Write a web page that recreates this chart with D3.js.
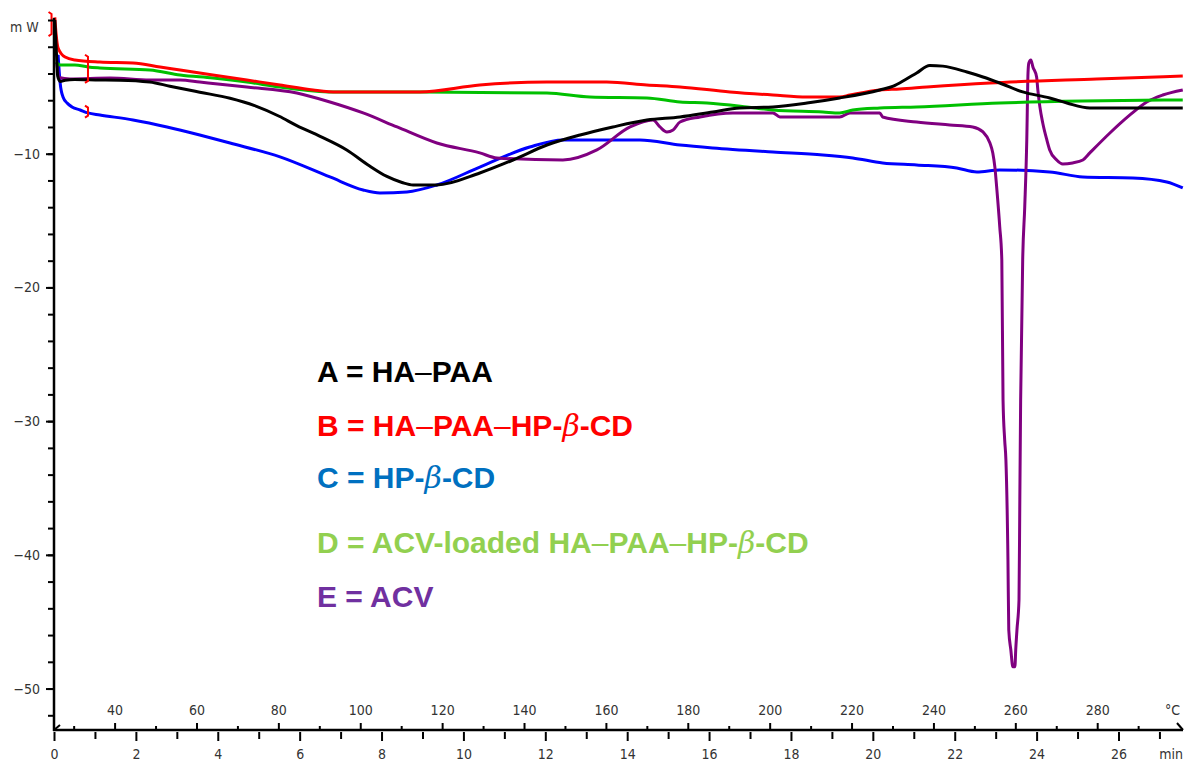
<!DOCTYPE html>
<html>
<head>
<meta charset="utf-8">
<script src="https://cdn.jsdelivr.net/npm/d3@7"></script>
<style>
  html, body { margin: 0; padding: 0; background: #fff; }
  svg { display: block; }
  .tick-label { font-family: "DejaVu Sans Condensed", "DejaVu Sans", sans-serif; font-size: 14px; fill: #333; }
  .legend { font-family: "Liberation Sans", Arial, sans-serif; font-size: 30px; font-weight: bold; }
</style>
</head>
<body>
<div id="chart"></div>
<script>
// DSC traces, time in min, heat flow in mW
var seriesA = [[0.02,0.0],[0.06,-2.5],[0.09,-4.2],[0.15,-4.6],[0.27,-4.5],[0.5,-4.45],[1.12,-4.49],[1.61,-4.5],[2.34,-4.64],[2.83,-4.95],[3.56,-5.4],[4.3,-5.85],[4.9,-6.4],[5.5,-7.2],[5.93,-7.9],[6.5,-8.7],[7.15,-9.72],[7.7,-10.9],[8.13,-11.7],[8.5,-12.15],[8.77,-12.34],[9.35,-12.34],[10.40,-11.44],[11.21,-10.47],[12.04,-9.35],[12.85,-8.6],[13.65,-8.0],[14.48,-7.48],[15.29,-7.25],[16.09,-6.88],[16.75,-6.58],[17.56,-6.5],[18.39,-6.21],[19.19,-5.83],[20.17,-5.23],[20.5,-4.95],[20.8,-4.45],[21.07,-3.96],[21.39,-3.4],[21.71,-3.45],[22.30,-3.89],[22.69,-4.26],[23.10,-4.71],[23.66,-5.38],[24.32,-5.83],[24.74,-6.21],[25.30,-6.58],[26.35,-6.58],[27.57,-6.58]];
var seriesB = [[0.02,0.2],[0.05,-1.0],[0.10,-2.09],[0.27,-2.77],[0.51,-2.99],[1.12,-3.14],[1.93,-3.21],[2.59,-3.51],[3.08,-3.74],[3.88,-4.11],[4.71,-4.49],[5.52,-4.86],[6.33,-5.23],[6.91,-5.38],[8.94,-5.38],[10.40,-4.86],[12.04,-4.64],[13.5,-4.64],[14.48,-4.86],[15.29,-5.01],[16.51,-5.38],[17.56,-5.61],[18.39,-5.76],[19.19,-5.76],[19.44,-5.61],[20.17,-5.23],[20.66,-5.16],[21.32,-5.01],[22.86,-4.71],[25.47,-4.41],[27.57,-4.19]];
var seriesC = [[0.10,-2.6],[0.15,-4.71],[0.22,-5.76],[0.32,-6.21],[0.44,-6.50],[0.64,-6.73],[0.83,-6.95],[1.12,-7.10],[1.93,-7.48],[2.76,-8.0],[3.56,-8.60],[4.30,-9.20],[5.52,-10.24],[6.74,-11.74],[7.55,-12.71],[7.96,-12.93],[8.62,-12.86],[9.35,-12.34],[10.40,-11.0],[11.62,-9.50],[12.43,-8.97],[14.31,-8.97],[15.29,-9.35],[16.09,-9.57],[17.56,-9.87],[18.78,-10.09],[19.51,-10.32],[20.24,-10.69],[21.07,-10.84],[22.05,-11.07],[22.54,-11.36],[23.10,-11.21],[24.32,-11.36],[25.13,-11.74],[26.35,-11.81],[27.18,-12.11],[27.57,-12.56]];
var seriesD = [[0.05,-3.14],[0.15,-3.36],[0.51,-3.36],[0.83,-3.51],[1.12,-3.59],[2.34,-3.74],[3.08,-4.11],[3.88,-4.34],[4.71,-4.64],[5.52,-5.01],[6.81,-5.38],[9.01,-5.38],[12.04,-5.46],[13.09,-5.76],[14.48,-5.83],[15.29,-6.13],[15.95,-6.21],[16.92,-6.50],[17.56,-6.73],[18.78,-6.88],[19.19,-6.95],[19.51,-6.73],[20.17,-6.58],[21.07,-6.50],[23.10,-6.21],[25.13,-6.06],[27.57,-5.98]];
var seriesE = [[0.07,-3.2],[0.12,-4.3],[0.39,-4.41],[1.37,-4.34],[2.34,-4.49],[3.08,-4.49],[3.56,-4.64],[4.71,-5.01],[5.93,-5.46],[6.74,-6.13],[7.55,-6.95],[8.38,-8.0],[9.35,-9.20],[10.40,-9.94],[10.82,-10.32],[12.43,-10.47],[13.26,-9.72],[14.07,-8.0],[14.63,-7.48],[14.80,-8.0],[14.97,-8.37],[15.12,-8.22],[15.29,-7.63],[15.78,-7.25],[16.58,-6.95],[17.56,-6.95],[17.73,-7.25],[19.19,-7.25],[19.44,-6.95],[20.17,-6.95],[20.24,-7.25],[21.07,-7.63],[21.88,-7.85],[22.44,-8.0],[22.69,-8.37],[22.86,-9.20],[22.93,-9.94],[22.98,-10.99],[23.03,-12.71],[23.10,-15.48],[23.15,-17.94],[23.18,-28.41],[23.22,-31.40],[23.25,-32.9],[23.30,-40.37],[23.32,-45.61],[23.37,-47.10],[23.42,-48.37],[23.47,-48.37],[23.49,-47.10],[23.52,-45.61],[23.57,-43.36],[23.59,-35.89],[23.61,-28.41],[23.66,-17.94],[23.71,-13.98],[23.76,-8.97],[23.79,-3.96],[23.81,-3.21],[23.86,-2.99],[23.91,-3.51],[24.00,-4.26],[24.03,-5.23],[24.08,-6.50],[24.15,-7.70],[24.25,-8.97],[24.32,-9.72],[24.49,-10.47],[24.64,-10.77],[24.88,-10.69],[25.13,-10.47],[25.30,-9.94],[25.79,-8.45],[26.28,-7.10],[26.69,-6.13],[27.08,-5.61],[27.57,-5.23]];

var seriesColors = ['#0000ff', '#800080', '#00c000', '#ff0000', '#000000'];
var seriesOrder = [seriesC, seriesE, seriesD, seriesB, seriesA];

var legendKeys = ['A', 'B', 'C', 'D', 'E'];
var legendNames = ['HA–PAA', 'HA–PAA–HP-β-CD', 'HP-β-CD', 'ACV-loaded HA–PAA–HP-β-CD', 'ACV'];
var legendColors = ['#000000', '#ff0000', '#0070c0', '#92d050', '#7030a0'];

var yMajorTicks = [-10, -20, -30, -40, -50];
var yMinorTicks = d3.range(0, -53, -2);
var timeTicks = d3.range(0, 27, 2);
var timeMinorTicks = d3.range(1, 28, 2);
var tempTicks = d3.range(40, 281, 20);
var tempMinorTicks = d3.range(30, 291, 20);

// integration markers (time, upper mW, lower mW)
var markers = [[-0.06, 0.6, -1.2], [0.83, -2.6, -4.7], [0.83, -6.4, -7.3]];

var width = 1184, height = 762;
var x0 = 54, xEnd = 1184, axisY = 730;

var svg = d3.select('#chart').append('svg')
    .attr('width', width)
    .attr('height', height);

var x = d3.scaleLinear().domain([0, 27.6]).range([x0, xEnd]);
var y = d3.scaleLinear().domain([0, -53.1]).range([20, axisY]);
// heating at 10 °C/min from ~25 °C
var tempScale = d3.scaleLinear().domain([25.2, 25.2 + 276]).range([x0, xEnd]);

var line = d3.line()
    .x(function (d) { return x(d[0]); })
    .y(function (d) { return y(d[1]); })
    .curve(d3.curveMonotoneX);

var plot = svg.append('g');
seriesOrder.forEach(function (s, i) {
    plot.append('path')
        .datum(s)
        .attr('d', line)
        .attr('fill', 'none')
        .attr('stroke', seriesColors[i])
        .attr('stroke-width', 3)
        .attr('stroke-linejoin', 'round');
});

// red markers
markers.forEach(function (m) {
    var mx = x(m[0]), ya = y(m[1]), yb = y(m[2]);
    svg.append('path')
        .attr('d', 'M' + (mx - 3) + ',' + ya + ' L' + mx + ',' + (ya + 2) + ' L' + mx + ',' + (yb - 2) + ' L' + (mx - 3) + ',' + yb)
        .attr('fill', 'none')
        .attr('stroke', '#ff0000')
        .attr('stroke-width', 2);
});

// y axis
var yMinor = svg.append('g')
    .attr('transform', 'translate(' + x0 + ',0)')
    .call(d3.axisLeft(y).tickValues(yMinorTicks).tickSize(6).tickFormat(''));
var yMajor = svg.append('g')
    .attr('transform', 'translate(' + x0 + ',0)')
    .call(d3.axisLeft(y).tickValues(yMajorTicks).tickSize(8).tickPadding(6).tickFormat(d3.format('d')));
[yMinor, yMajor].forEach(function (g) {
    g.select('.domain').remove();
    g.selectAll('line').attr('stroke', '#000').attr('stroke-width', 2);
});
yMajor.selectAll('text').attr('class', 'tick-label').attr('font-family', null).attr('font-size', null).attr('fill', null);

svg.append('line')
    .attr('x1', x0).attr('x2', x0)
    .attr('y1', 18).attr('y2', axisY + 1)
    .attr('stroke', '#000').attr('stroke-width', 2.5);

svg.append('text')
    .attr('class', 'tick-label')
    .attr('x', 10).attr('y', 32)
    .attr('font-size', 15)
    .attr('letter-spacing', 4)
    .text('mW');

// x axis line
svg.append('line')
    .attr('x1', x0 - 1).attr('x2', xEnd - 1)
    .attr('y1', axisY).attr('y2', axisY)
    .attr('stroke', '#000').attr('stroke-width', 2.5);
svg.append('line')
    .attr('x1', xEnd - 7).attr('y1', axisY - 7)
    .attr('x2', xEnd - 1).attr('y2', axisY)
    .attr('stroke', '#000').attr('stroke-width', 2);
svg.append('line')
    .attr('x1', x0).attr('y1', axisY)
    .attr('x2', x0 + 6).attr('y2', axisY - 5)
    .attr('stroke', '#000').attr('stroke-width', 2);

// temperature scale above axis line
var tMinor = svg.append('g')
    .attr('transform', 'translate(0,' + axisY + ')')
    .call(d3.axisTop(tempScale).tickValues(tempMinorTicks).tickSize(4).tickFormat(''));
var tMajor = svg.append('g')
    .attr('transform', 'translate(0,' + axisY + ')')
    .call(d3.axisTop(tempScale).tickValues(tempTicks).tickSize(7).tickPadding(8).tickFormat(d3.format('d')));

// time scale below axis line
var mMinor = svg.append('g')
    .attr('transform', 'translate(0,' + (axisY + 2) + ')')
    .call(d3.axisBottom(x).tickValues(timeMinorTicks).tickSize(7).tickFormat(''));
var mMajor = svg.append('g')
    .attr('transform', 'translate(0,' + (axisY + 2) + ')')
    .call(d3.axisBottom(x).tickValues(timeTicks).tickSize(9).tickPadding(8).tickFormat(d3.format('d')));

[tMinor, tMajor, mMinor, mMajor].forEach(function (g) {
    g.select('.domain').remove();
    g.selectAll('line').attr('stroke', '#000').attr('stroke-width', 2);
    g.selectAll('text').attr('class', 'tick-label').attr('font-family', null).attr('font-size', null).attr('fill', null);
});

svg.append('text')
    .attr('class', 'tick-label')
    .attr('x', 1180).attr('y', 715)
    .attr('text-anchor', 'end')
    .text('°C');
svg.append('text')
    .attr('class', 'tick-label')
    .attr('x', 1183).attr('y', 759)
    .attr('text-anchor', 'end')
    .text('min');

// legend text
var legendBaselines = [382, 436, 488, 553, 607];
legendKeys.forEach(function (k, i) {
    var t = svg.append('text')
        .attr('class', 'legend')
        .attr('x', 317)
        .attr('y', legendBaselines[i])
        .attr('fill', legendColors[i]);
    t.append('tspan').text(k + ' = ');
    legendNames[i].split(/(β|–)/).forEach(function (part) {
        if (part === '') return;
        var sp = t.append('tspan').text(part);
        if (part === 'β') {
            sp.attr('font-style', 'italic').attr('font-family', '"DejaVu Serif", serif').attr('font-weight', 'normal');
        } else if (part === '–') {
            sp.attr('font-weight', 'normal');
        }
    });
});
</script>
</body>
</html>
